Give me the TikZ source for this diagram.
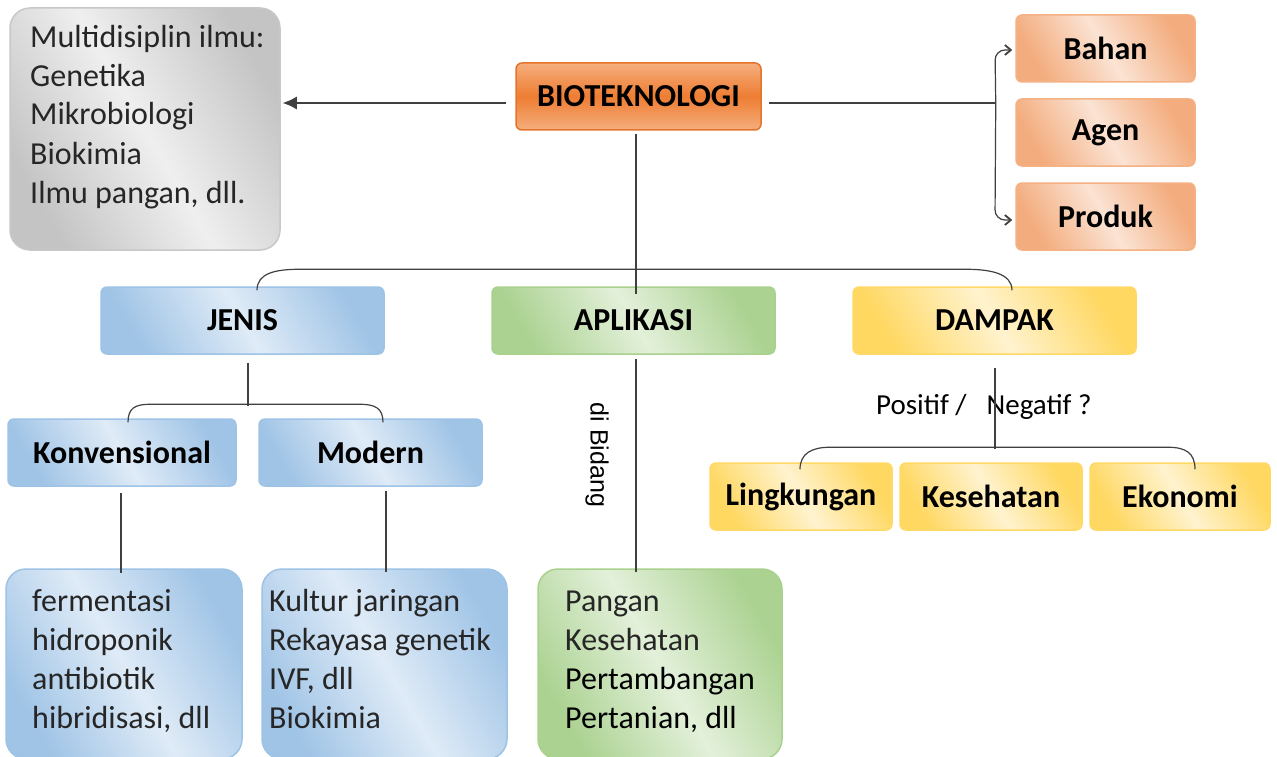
\documentclass[tikz,border=0pt]{standalone}
\usepackage{fontspec}
\setmainfont{Carlito}
\newfontfamily\arialfont{Liberation Sans}
\usetikzlibrary{arrows.meta,calc}
\definecolor{lineC}{HTML}{404040}
\definecolor{txtC}{HTML}{262626}
\definecolor{greyD}{HTML}{C4C4C4}
\definecolor{greyL}{HTML}{EFEFEF}
\definecolor{greyB}{HTML}{C8C8C8}
\definecolor{orM}{HTML}{EE7D32}
\definecolor{orL}{HTML}{F5AE7E}
\definecolor{orB}{HTML}{E5742A}
\definecolor{peD}{HTML}{F3AC7D}
\definecolor{peL}{HTML}{FBE3D4}
\definecolor{peB}{HTML}{F4B183}
\definecolor{blD}{HTML}{A0C4E6}
\definecolor{blL}{HTML}{DFEBF7}
\definecolor{blB}{HTML}{9DC3E6}
\definecolor{grD}{HTML}{ABD291}
\definecolor{grL}{HTML}{E3F0DA}
\definecolor{grB}{HTML}{A9D18E}
\definecolor{yeD}{HTML}{FFD862}
\definecolor{yeL}{HTML}{FFF3CF}
\definecolor{yeB}{HTML}{FFD966}
\tikzset{
  lbl/.style={rounded corners=6pt, line width=1.5pt, inner sep=0pt,
    font=\fontsize{32}{39}\selectfont\bfseries, text=black},
  bigbox/.style={rounded corners=20pt, line width=1.5pt, inner sep=0pt},
  greyshade/.style={draw=greyB, left color=greyD, right color=greyD, middle color=greyL, shading angle=120},
  orshade/.style={draw=orB, top color=orL, bottom color=orL, middle color=orM},
  peshade/.style={draw=peB, left color=peD, right color=peD, middle color=peL, shading angle=120},
  blshade/.style={draw=blB, left color=blD, right color=blD, middle color=blL, shading angle=120},
  grshade/.style={draw=grB, left color=grD, right color=grD, middle color=grL, shading angle=120},
  yeshade/.style={draw=yeB, left color=yeD, right color=yeD, middle color=yeL, shading angle=120},
  listtext/.style={font=\fontsize{32}{39}\selectfont, text=txtC, align=left, inner sep=0pt},
  conn/.style={draw=lineC, line width=1.2pt},
}
\begin{document}
\begin{tikzpicture}[x=1pt,y=-1pt]
\useasboundingbox (0,0) rectangle (1277,757);
\clip (0,0) rectangle (1277,757);
\fill[white] (0,0) rectangle (1277,757);
% boxes
\node[bigbox, greyshade, minimum width=270pt, minimum height=242pt] (grey) at (145,129) {};
\node[lbl, orshade, minimum width=245pt, minimum height=67pt] (bio) at (638.5,96.5) {BIOTEKNOLOGI};
\node[lbl, peshade, minimum width=179pt, minimum height=67pt] (bahan) at (1105.5,48.5) {Bahan};
\node[lbl, peshade, minimum width=179pt, minimum height=67pt] (agen) at (1105.5,132.5) {Agen};
\node[lbl, peshade, minimum width=179pt, minimum height=67pt] (produk) at (1105.5,216.5) {Produk};
\node[lbl, blshade, minimum width=283pt, minimum height=67pt] (jenis) at (242.5,320.5) {JENIS};
\node[lbl, grshade, minimum width=283pt, minimum height=67pt] (apl) at (633.5,320.5) {APLIKASI};
\node[lbl, yeshade, minimum width=283pt, minimum height=67pt] (damp) at (994.5,320.5) {DAMPAK};
\node[lbl, blshade, minimum width=228pt, minimum height=67pt] (konv) at (122,452.5) {Konvensional};
\node[lbl, blshade, minimum width=223pt, minimum height=67pt] (mod) at (370.5,452.5) {Modern};
\node[lbl, yeshade, minimum width=182pt, minimum height=67pt] (ling) at (801,496.5) {Lingkungan};
\node[lbl, yeshade, minimum width=182pt, minimum height=67pt] (kes) at (991,496.5) {Kesehatan};
\node[lbl, yeshade, minimum width=180pt, minimum height=67pt] (eko) at (1180,496.5) {Ekonomi};
\node[bigbox, blshade, minimum width=236pt, minimum height=190pt] (ferm) at (124,664) {};
\node[bigbox, blshade, minimum width=245pt, minimum height=190pt] (kult) at (384.5,664) {};
\node[bigbox, grshade, minimum width=244pt, minimum height=190pt] (pang) at (660,664) {};
% list texts (base anchor = baseline of last line)
\node[listtext, anchor=base west] (tgrey) at (30,203) {Multidisiplin ilmu:\\Genetika\\Mikrobiologi\\Biokimia\\Ilmu pangan, dll.};
\node[listtext, anchor=base west] (tferm) at (32,728) {fermentasi\\hidroponik\\antibiotik\\hibridisasi, dll};
\node[listtext, anchor=base west] (tkult) at (269,728) {Kultur jaringan\\Rekayasa genetik\\IVF, dll\\Biokimia};
\node[listtext, anchor=base west, text=black] (tpang) at (565,728) {\textcolor{txtC}{Pangan}\\\textcolor{txtC}{Kesehatan}\\Pertambangan\\Pertanian, dll};
\node[font=\arialfont\fontsize{25}{30}\selectfont, rotate=-90, inner sep=0pt] (bidang) at (597,455) {di Bidang};
\node[font=\fontsize{29}{34}\selectfont, anchor=base west, inner sep=0pt] (posneg) at (876,414) {Positif /\hspace{20pt}Negatif ?};
% connectors
\coordinate (la) at ([shift={(-9,6.5)}]bio.west);
\draw[conn, -{Latex[length=14pt,width=13pt]}] (la) -- ([xshift=2]la -| grey.east);
\coordinate (ra) at ([shift={(7,6.5)}]bio.east);
\coordinate (br) at ([shift={(234,6.5)}]bio.east);
\draw[conn] (ra) -- (br);
\draw[conn, rounded corners=10pt, -{Straight Barb[length=6pt,width=10pt,line width=1.8pt]}] (br) -- ([xshift=-110.5,yshift=-1.5]bahan.center) -- ([xshift=-3,yshift=-1.5]bahan.west);
\draw[conn, rounded corners=10pt, -{Straight Barb[length=6pt,width=10pt,line width=1.8pt]}] (br) -- ([xshift=-110.5,yshift=-3.5]produk.center) -- ([xshift=-3,yshift=-3.5]produk.west);
% main vertical
\draw[conn] ([shift={(-2.5,3)}]bio.south) -- ([shift={(2.5,8)}]apl.north);
% top bracket
\coordinate (j1) at ([shift={(14.5,4)}]jenis.north);
\coordinate (d1) at ([shift={(17.5,4)}]damp.north);
\draw[conn] (j1) .. controls +(0,-17) and +(-25,0) .. ($(j1)+(43,-21)$) -- ($(d1)+(-47,-21)$) .. controls +(25,0) and +(0,-17) .. (d1);
% jenis sub-bracket
\coordinate (jb) at ([shift={(5.5,8)}]jenis.south);
\coordinate (k1) at ([shift={(6,4)}]konv.north);
\coordinate (m1) at ([shift={(12.5,4)}]mod.north);
\draw[conn] (jb) -- ++(0,43);
\draw[conn] (k1) .. controls +(0,-14) and +(-15,0) .. ($(k1)+(22,-18)$) -- ($(m1)+(-23,-18)$) .. controls +(15,0) and +(0,-14) .. (m1);
\draw[conn] ([shift={(-1,6)}]konv.south) -- ([shift={(-3,5)}]ferm.north);
\draw[conn] ([shift={(15.5,4)}]mod.south) -- ([shift={(1.5,4)}]kult.north);
\draw[conn] ([shift={(2.5,4)}]apl.south) -- ([shift={(-24,4)}]pang.north);
% dampak
\draw[conn] ([shift={(0.5,13)}]damp.south) -- ++(0,81);
\coordinate (l1) at ([shift={(-1,7)}]ling.north);
\coordinate (e1) at ([shift={(15,7)}]eko.north);
\draw[conn] (l1) .. controls +(0,-16) and +(-18,0) .. ($(l1)+(30,-22)$) -- ($(e1)+(-27,-22)$) .. controls +(18,0) and +(0,-16) .. (e1);
\end{tikzpicture}
\end{document}
